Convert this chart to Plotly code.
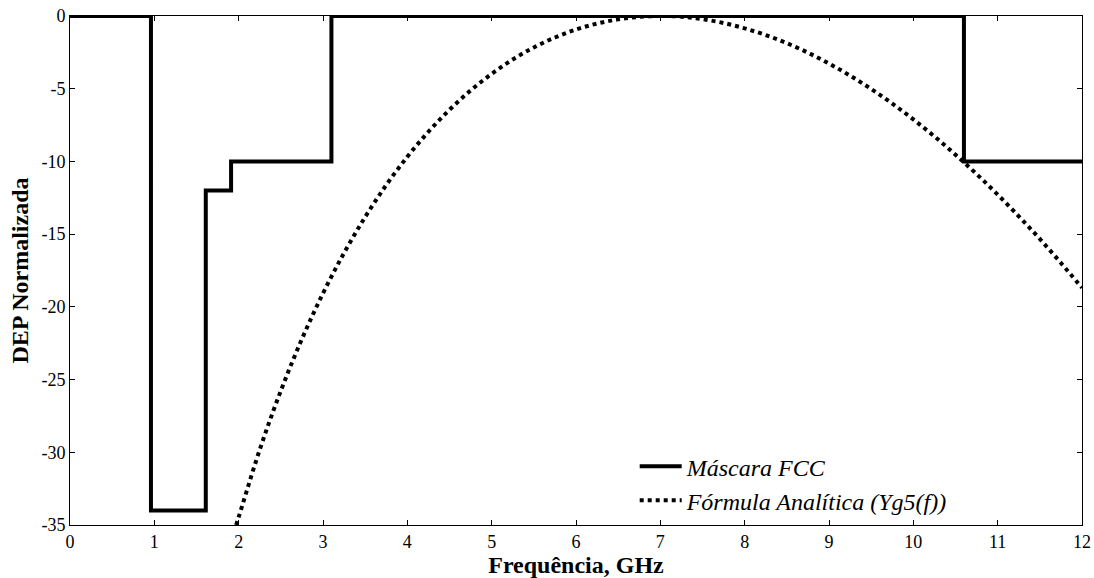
import plotly.graph_objects as go

# FCC mask (step function)
mask_x = [0, 0.96, 0.96, 1.61, 1.61, 1.91, 1.91, 3.1, 3.1, 10.6, 10.6, 12]
mask_y = [0, 0, -34, -34, -12, -12, -10, -10, 0, 0, -10, -10]

# Analytical formula curve (Yg5(f))
curve_x = [1.97, 2.0, 2.25, 2.5, 2.75, 3.0, 3.25, 3.5, 3.75, 4.0, 4.25, 4.5, 4.75, 5.0,
           5.25, 5.5, 5.75, 6.0, 6.25, 6.5, 6.75, 7.0, 7.25, 7.5, 7.75, 8.0, 8.25, 8.5,
           8.75, 9.0, 9.25, 9.5, 9.75, 10.0, 10.25, 10.5, 10.75, 11.0, 11.25, 11.5,
           11.75, 12.0]
curve_y = [-35.0, -34.46, -29.82, -25.77, -22.21, -19.07, -16.29, -13.82, -11.62, -9.68,
           -7.96, -6.45, -5.12, -3.98, -2.99, -2.16, -1.48, -0.93, -0.52, -0.23, -0.06, 0.0,
           -0.05, -0.22, -0.48, -0.85, -1.31, -1.87, -2.52, -3.27, -4.10, -5.02, -6.02,
           -7.11, -8.28, -9.54, -10.87, -12.28, -13.77, -15.33, -16.98, -18.69]

x_ticks = list(range(0, 13))
x_labels = [str(v) for v in x_ticks]
y_ticks = [0, -5, -10, -15, -20, -25, -30, -35]
y_labels = ["0", "-5", "-10", "-15", "-20", "-25", "-30", "-35"]

SERIF = "Liberation Serif, Times New Roman, Times, serif"

fig = go.Figure()
fig.add_trace(go.Scatter(x=mask_x, y=mask_y, mode="lines", name="<i>Máscara FCC</i>",
                         legendgroup="a",
                         line=dict(color="black", width=4), cliponaxis=True))
fig.add_trace(go.Scatter(x=curve_x, y=curve_y, mode="lines",
                         name="<i>Fórmula Analítica (Yg5(f))</i>", legendgroup="b",
                         line=dict(color="black", width=4, dash="dot", shape="spline"),
                         cliponaxis=True))

axis_common = dict(showgrid=False, zeroline=False, showline=True, linecolor="black",
                   linewidth=1, mirror="ticks", ticks="inside", ticklen=5, tickcolor="black",
                   automargin=False,
                   tickfont=dict(family=SERIF, size=18, color="black"))

fig.update_layout(
    width=1094, height=578,
    margin=dict(l=70, r=12, t=16, b=53),
    paper_bgcolor="white", plot_bgcolor="white",
    font=dict(family=SERIF, color="black"),
    showlegend=True,
    legend=dict(x=0.558, y=0.159, xanchor="left", yanchor="top",
                bgcolor="rgba(0,0,0,0)", borderwidth=0, itemwidth=42,
                font=dict(family=SERIF, size=24, color="black"),
                traceorder="grouped", tracegroupgap=0),
    xaxis=dict(range=[0, 12], tickvals=x_ticks, ticktext=x_labels,
               title=dict(text="<b>Frequência, GHz</b>", standoff=0,
                          font=dict(family=SERIF, size=24, color="black")),
               **axis_common),
    yaxis=dict(range=[-35, 0], tickvals=y_ticks, ticktext=y_labels,
               title=dict(text="<b>DEP Normalizada</b>", standoff=6,
                          font=dict(family=SERIF, size=24, color="black")),
               **axis_common),
)

fig.write_html("out.html")
